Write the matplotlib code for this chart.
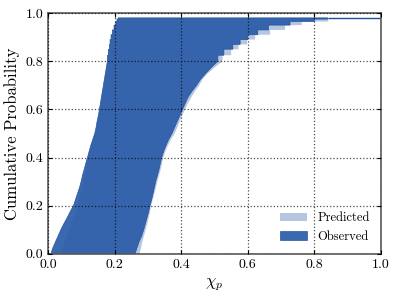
import matplotlib
matplotlib.use("Agg")
import matplotlib.pyplot as plt
import numpy as np
from matplotlib.patches import Polygon

plt.rcParams['font.family'] = ['cmr10', 'DejaVu Serif']
plt.rcParams['mathtext.fontset'] = 'cm'
plt.rcParams['axes.formatter.use_mathtext'] = True

# cumulative probability levels
cum = [0.000, 0.025, 0.050, 0.075, 0.100, 0.125, 0.150, 0.175, 0.200, 0.225,
       0.250, 0.275, 0.300, 0.325, 0.350, 0.375, 0.400, 0.425, 0.450, 0.475,
       0.500, 0.525, 0.550, 0.575, 0.600, 0.625, 0.650, 0.675, 0.700, 0.725,
       0.750, 0.775, 0.800, 0.825, 0.850, 0.870, 0.890, 0.910, 0.930, 0.950,
       0.965, 0.975, 0.980]

# Observed band (left / right edges in chi_p)
obs_lo = [0.008, 0.014, 0.022, 0.030, 0.038, 0.047, 0.057, 0.066, 0.076, 0.082,
          0.088, 0.094, 0.099, 0.103, 0.108, 0.113, 0.118, 0.123, 0.128, 0.134,
          0.140, 0.144, 0.147, 0.151, 0.154, 0.157, 0.160, 0.163, 0.166, 0.169,
          0.172, 0.175, 0.178, 0.181, 0.184, 0.186, 0.189, 0.193, 0.198, 0.203,
          0.207, 0.211, 0.211]
obs_hi = [0.261, 0.267, 0.273, 0.281, 0.287, 0.292, 0.297, 0.302, 0.306, 0.311,
          0.315, 0.319, 0.323, 0.328, 0.333, 0.337, 0.341, 0.347, 0.354, 0.362,
          0.372, 0.380, 0.388, 0.396, 0.404, 0.412, 0.420, 0.432, 0.446, 0.458,
          0.474, 0.491, 0.510, 0.528, 0.555, 0.577, 0.600, 0.630, 0.662, 0.727,
          0.800, 0.840, 0.840]

# Predicted band
pred_lo = [0.038, 0.044, 0.050, 0.057, 0.063, 0.070, 0.076, 0.082, 0.088, 0.093,
           0.097, 0.102, 0.106, 0.110, 0.113, 0.117, 0.121, 0.125, 0.130, 0.136,
           0.142, 0.146, 0.149, 0.153, 0.156, 0.159, 0.162, 0.165, 0.168, 0.171,
           0.174, 0.177, 0.180, 0.183, 0.186, 0.188, 0.191, 0.195, 0.199, 0.204,
           0.206, 0.209, 0.209]
pred_hi = [0.275, 0.279, 0.283, 0.288, 0.293, 0.298, 0.302, 0.306, 0.309, 0.314,
           0.319, 0.324, 0.328, 0.333, 0.338, 0.342, 0.346, 0.352, 0.360, 0.369,
           0.380, 0.388, 0.395, 0.403, 0.411, 0.420, 0.430, 0.441, 0.454, 0.464,
           0.480, 0.501, 0.524, 0.550, 0.572, 0.598, 0.622, 0.667, 0.712, 0.762,
           0.842, 0.850, 0.850]

xticks = [0.0, 0.2, 0.4, 0.6, 0.8, 1.0]
yticks = [0.0, 0.2, 0.4, 0.6, 0.8, 1.0]

base = '#2a5ca8'
STEP_FROM = 0.80   # coarse (visible) steps only in the sparse upper tail


def edge(levels, xs):
    pts = []
    n = len(levels)
    for i in range(n):
        pts.append((xs[i], levels[i]))
        if i < n - 1 and levels[i] >= STEP_FROM:
            pts.append((xs[i], levels[i + 1]))
    return pts


def band(levels, lo, hi):
    left = edge(levels, lo)
    right = edge(levels, hi)
    return np.array(left + right[::-1])


fig = plt.figure(figsize=(3.98, 2.97), dpi=100)
ax = fig.add_axes([0.121, 0.145, 0.836, 0.811])

ax.add_patch(Polygon(band(cum, pred_lo, pred_hi), closed=True,
                     facecolor=base, alpha=0.35, linewidth=0, label='Predicted'))
ax.add_patch(Polygon(band(cum, obs_lo, obs_hi), closed=True,
                     facecolor=base, alpha=0.92, edgecolor='#1f4f96',
                     linewidth=0.5, label='Observed'))
ax.hlines(cum[-1], obs_hi[-1], 1.0, color='#1f4f96', linewidth=1.0)

ax.set_xlim(0, 1)
ax.set_ylim(0, 1)
ax.set_xticks(xticks)
ax.set_yticks(yticks)
ax.set_xticklabels([f'{v:.1f}' for v in xticks])
ax.set_yticklabels([f'{v:.1f}' for v in yticks])
ax.tick_params(direction='in', length=3, labelsize=10, top=True, right=True)
ax.grid(True, linestyle=':', color='black', linewidth=0.9, alpha=0.7)
ax.set_axisbelow(False)
for s in ax.spines.values():
    s.set_color('0.35')
    s.set_linewidth(1.2)

ax.set_xlabel(r'$\chi_p$', fontsize=12)
ax.set_ylabel('Cumulative Probability', fontsize=12)

ax.legend(loc='lower right', frameon=False, fontsize=9, handlelength=2.2,
          borderaxespad=0.5)

fig.savefig('out.png', dpi=100)
